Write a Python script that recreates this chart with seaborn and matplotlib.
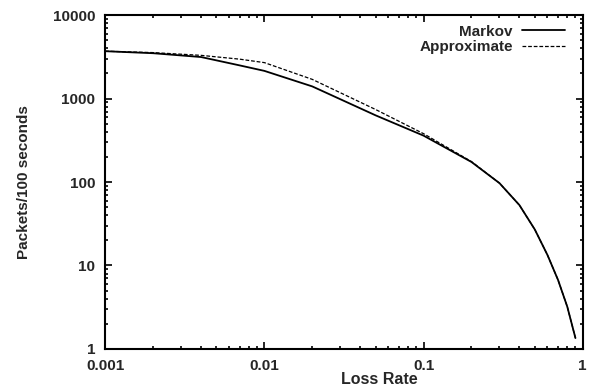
import numpy as np
import pandas as pd
import matplotlib
matplotlib.use("Agg")
import matplotlib.pyplot as plt
import seaborn as sns
from matplotlib.ticker import LogLocator, FixedLocator, FixedFormatter

# valores
markov_loss = [0.001, 0.002, 0.004, 0.007, 0.01, 0.02, 0.05, 0.1, 0.2, 0.3, 0.4, 0.5, 0.6, 0.7, 0.8, 0.9]
markov_pkts = [3700, 3500, 3150, 2500, 2150, 1400, 630, 360, 174, 97, 53, 27, 13.4, 6.7, 3.2, 1.35]

approx_loss = [0.001, 0.002, 0.004, 0.007, 0.01, 0.02, 0.05, 0.1, 0.2, 0.3, 0.4, 0.5, 0.6, 0.7, 0.8, 0.9]
approx_pkts = [3700, 3560, 3300, 2970, 2700, 1700, 740, 380, 176, 97, 53, 27, 13.4, 6.7, 3.2, 1.35]

x_ticks = [0.001, 0.01, 0.1, 1]
x_labels = ["0.001", "0.01", "0.1", "1"]
y_ticks = [1, 10, 100, 1000, 10000]
y_labels = ["1", "10", "100", "1000", "10000"]

df = pd.concat([
    pd.DataFrame({"loss": markov_loss, "pkts": markov_pkts, "serie": "Markov"}),
    pd.DataFrame({"loss": approx_loss, "pkts": approx_pkts, "serie": "Approximate"}),
])

sns.set_theme(style="ticks")
plt.rcParams["font.family"] = ["Liberation Sans", "DejaVu Sans"]

fig = plt.figure(figsize=(5.91, 3.89), dpi=100)
ax = fig.add_axes([0.178, 0.103, 0.808, 0.858])

sns.lineplot(data=df[df.serie == "Markov"], x="loss", y="pkts", color="black",
             lw=1.3, label="Markov", ax=ax)
sns.lineplot(data=df[df.serie == "Approximate"], x="loss", y="pkts", color="black",
             lw=0.9, linestyle=(0, (3, 1.5)), label="Approximate", ax=ax)

ax.set_xscale("log")
ax.set_yscale("log")
ax.set_xlim(0.001, 1)
ax.set_ylim(1, 10000)

ax.xaxis.set_major_locator(FixedLocator(x_ticks))
ax.xaxis.set_major_formatter(FixedFormatter(x_labels))
ax.yaxis.set_major_locator(FixedLocator(y_ticks))
ax.yaxis.set_major_formatter(FixedFormatter(y_labels))
ax.xaxis.set_minor_locator(LogLocator(base=10, subs=np.arange(2, 10)))
ax.yaxis.set_minor_locator(LogLocator(base=10, subs=np.arange(2, 10)))

ax.tick_params(which="both", direction="in", top=True, right=True, width=1.2, color="black")
ax.tick_params(which="major", length=5, labelsize=11, pad=7)
ax.tick_params(which="minor", length=2.5)
for lab in ax.get_xticklabels() + ax.get_yticklabels():
    lab.set_fontweight("bold")

for s in ax.spines.values():
    s.set_visible(True)
    s.set_linewidth(1.5)
    s.set_color("black")

ax.set_xlabel("Loss Rate", fontsize=11.5, fontweight="bold")
ax.xaxis.set_label_coords(0.575, -0.07)
ax.set_ylabel("Packets/100 seconds", fontsize=11, fontweight="bold", labelpad=16)

leg = ax.legend(loc="upper right", bbox_to_anchor=(0.975, 0.99), frameon=False,
                markerfirst=False, handlelength=2.8, fontsize=11, labelspacing=0.1,
                handletextpad=0.6, borderaxespad=0)
for t in leg.get_texts():
    t.set_fontweight("bold")

fig.savefig("out.png", dpi=100)
